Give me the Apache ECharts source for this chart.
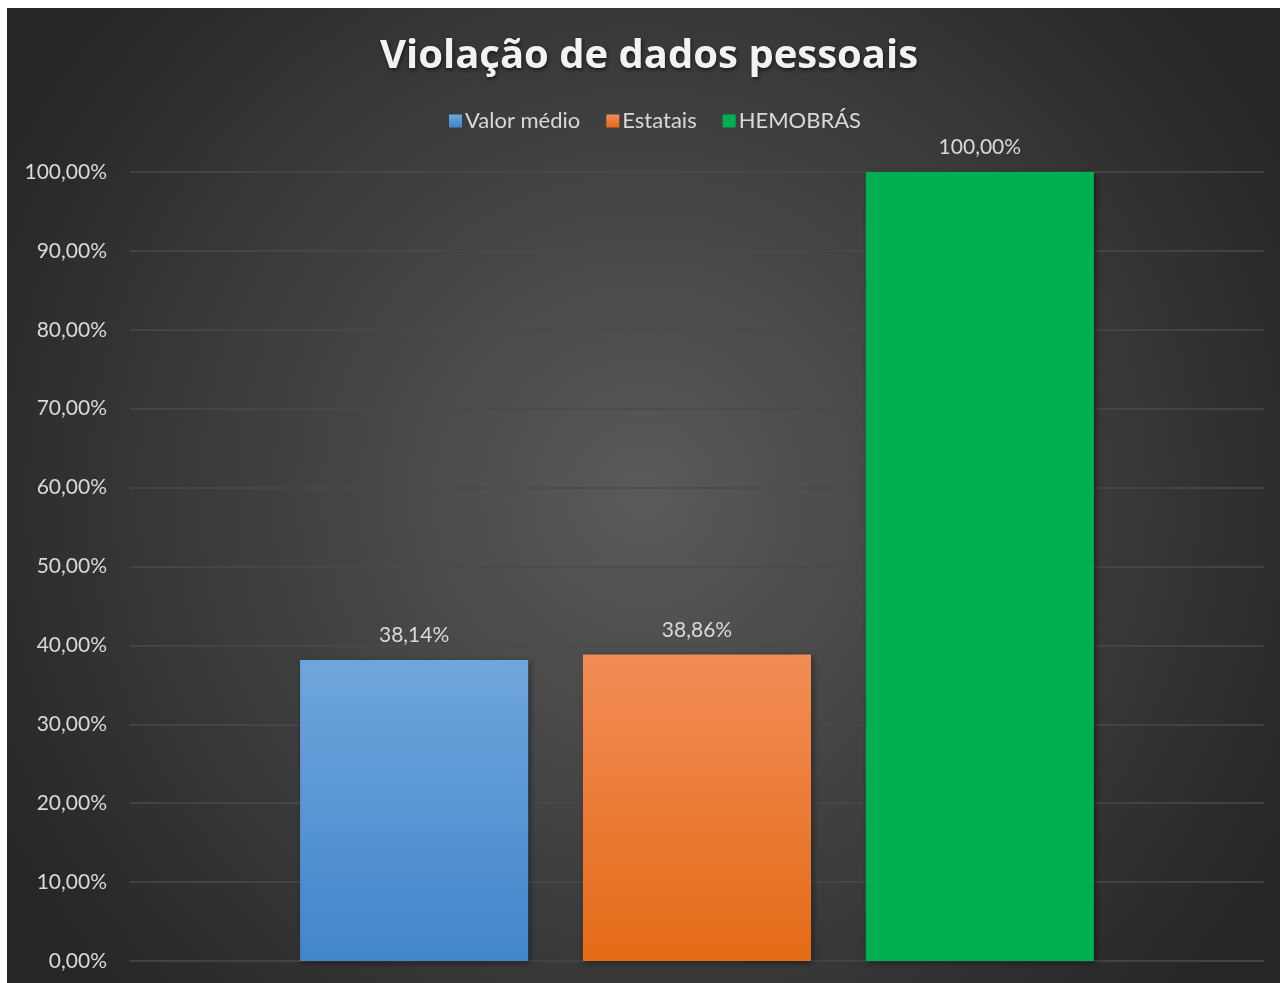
<!DOCTYPE html>
<html lang="pt">
<head>
    <meta charset="UTF-8">
    <title>Violação de dados pessoais</title>
    <script type="text/javascript" src="https://cdn.jsdelivr.net/npm/echarts@6/dist/echarts.min.js"></script>
    <style>
        html, body { margin: 0; padding: 0; background: #ffffff; }
        #chart { position: absolute; left: 7px; top: 8px; width: 1273px; height: 975px; }
    </style>
</head>
<body>
<div id="chart"></div>
<script type="text/javascript">
    var seriesNames = ['Valor médio', 'Estatais', 'HEMOBRÁS'];
    var seriesValues = [38.14, 38.86, 100];
    var categories = [''];

    var fills = [
        new echarts.graphic.LinearGradient(0, 0, 0, 1, [
            {offset: 0, color: '#6fa6dd'}, {offset: 1, color: '#4185cb'}
        ]),
        new echarts.graphic.LinearGradient(0, 0, 0, 1, [
            {offset: 0, color: '#f28c56'}, {offset: 1, color: '#e46b17'}
        ]),
        '#00b050'
    ];
    var legendColors = ['#5b9bd5', '#ed7d31', '#00b050'];

    function pct(v) {
        return v.toFixed(2).replace('.', ',') + '%';
    }

    var chart = echarts.init(document.getElementById('chart'));

    var series = [];
    for (var i = 0; i < seriesNames.length; i++) {
        series.push({
            name: seriesNames[i],
            type: 'bar',
            data: [seriesValues[i]],
            barGap: '24%',
            barCategoryGap: '30%',
            color: legendColors[i],
            itemStyle: {
                color: fills[i],
                shadowBlur: 6,
                shadowOffsetX: 2,
                shadowOffsetY: 2,
                shadowColor: 'rgba(0,0,0,0.45)'
            },
            label: {
                show: true,
                position: 'top',
                distance: 14,
                color: '#d9d9d9',
                fontFamily: 'Lato',
                fontSize: 21,
                formatter: function (p) { return pct(p.value); }
            }
        });
    }

    var option = {
        backgroundColor: new echarts.graphic.RadialGradient(0.5, 0.5, 0.75, [
            {offset: 0, color: '#5a5a5a'}, {offset: 1, color: '#262626'}
        ]),
        animation: false,
        title: {
            text: 'Violação de dados pessoais',
            left: 368,
            top: 24,
            textStyle: {
                color: '#f2f2f2',
                fontFamily: 'Open Sans',
                fontWeight: 'bold',
                fontSize: 40,
                textShadowColor: 'rgba(0,0,0,0.6)',
                textShadowBlur: 4,
                textShadowOffsetX: 1,
                textShadowOffsetY: 2
            }
        },
        legend: {
            top: 97,
            left: 437,
            itemWidth: 13,
            itemHeight: 13,
            itemGap: 26,
            icon: 'rect',
            textStyle: { color: '#d9d9d9', fontFamily: 'Lato', fontSize: 22, padding: [0, 0, 0, -2] },
            data: seriesNames
        },
        grid: { left: 123, right: 16, top: 164, bottom: 22, containLabel: false },
        xAxis: {
            type: 'category',
            data: categories,
            axisLine: { show: true, lineStyle: { color: '#424242', width: 2 } },
            axisTick: { show: false },
            axisLabel: { show: false }
        },
        yAxis: {
            type: 'value',
            min: 0,
            max: 100,
            interval: 10,
            axisLine: { show: false },
            axisTick: { show: false },
            axisLabel: {
                color: '#d9d9d9',
                fontFamily: 'Lato',
                fontSize: 21,
                margin: 23,
                formatter: function (v) { return pct(v); }
            },
            splitLine: { lineStyle: { color: '#4a4a4a', width: 1.5 } }
        },
        series: series
    };

    option && chart.setOption(option);
</script>
</body>
</html>
